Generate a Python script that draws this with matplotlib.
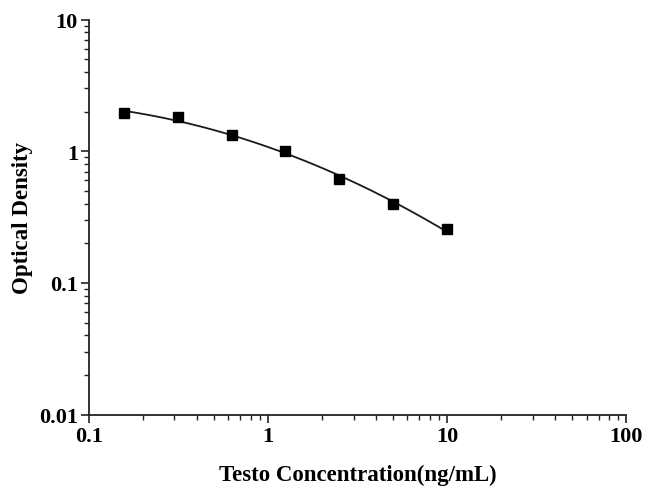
import numpy as np
import matplotlib
matplotlib.use("Agg")
import matplotlib.pyplot as plt
from matplotlib.ticker import LogLocator, NullFormatter, FixedLocator, FixedFormatter

conc = [0.156, 0.3125, 0.625, 1.25, 2.5, 5.0, 10.0]
od = [1.94, 1.81, 1.32, 1.005, 0.62, 0.395, 0.255]
x_ticks = [0.1, 1, 10, 100]
x_labels = ["0.1", "1", "10", "100"]
y_ticks = [0.01, 0.1, 1, 10]
y_labels = ["0.01", "0.1", "1", "10"]

plt.rcParams['font.family'] = ['Liberation Serif', 'DejaVu Serif']
plt.rcParams['font.weight'] = 'bold'

fig = plt.figure(figsize=(6.45, 4.89), dpi=100)
ax = fig.add_axes([0.138, 0.150, 0.833, 0.808])

# smooth fitted curve (quadratic in log-log space)
lx = np.log10(conc)
ly = np.log10(od)
coef = np.polyfit(lx, ly, 2)
xs = np.linspace(lx[0], lx[-1], 300)
ax.plot(10 ** xs, 10 ** np.polyval(coef, xs), color='#1a1a1a', lw=1.3)
ax.plot(conc, od, linestyle='none', marker='s', ms=7, color='black')

ax.set_xscale('log')
ax.set_yscale('log')
ax.set_xlim(0.1, 100)
ax.set_ylim(0.01, 10)

ax.xaxis.set_major_locator(FixedLocator(x_ticks))
ax.xaxis.set_major_formatter(FixedFormatter(x_labels))
ax.yaxis.set_major_locator(FixedLocator(y_ticks))
ax.yaxis.set_major_formatter(FixedFormatter(y_labels))
ax.xaxis.set_minor_locator(LogLocator(base=10, subs=np.arange(2, 10)))
ax.yaxis.set_minor_locator(LogLocator(base=10, subs=np.arange(2, 10)))
ax.xaxis.set_minor_formatter(NullFormatter())
ax.yaxis.set_minor_formatter(NullFormatter())

for s in ['top', 'right']:
    ax.spines[s].set_visible(False)
for s in ['left', 'bottom']:
    ax.spines[s].set_linewidth(1.3)
    ax.spines[s].set_color('#222222')

ax.tick_params(which='major', direction='out', length=6, width=1.2, labelsize=16, pad=2,
               color='#222222')
ax.tick_params(which='minor', direction='out', length=3.5, width=1.0, color='#222222')
for lab in ax.get_xticklabels() + ax.get_yticklabels():
    lab.set_fontweight('bold')

ax.set_xlabel('Testo Concentration(ng/mL)', fontsize=16.5, fontweight='bold', labelpad=13)
ax.set_ylabel('Optical Density', fontsize=16.5, fontweight='bold', labelpad=4)

fig.savefig('out.png', dpi=100)
